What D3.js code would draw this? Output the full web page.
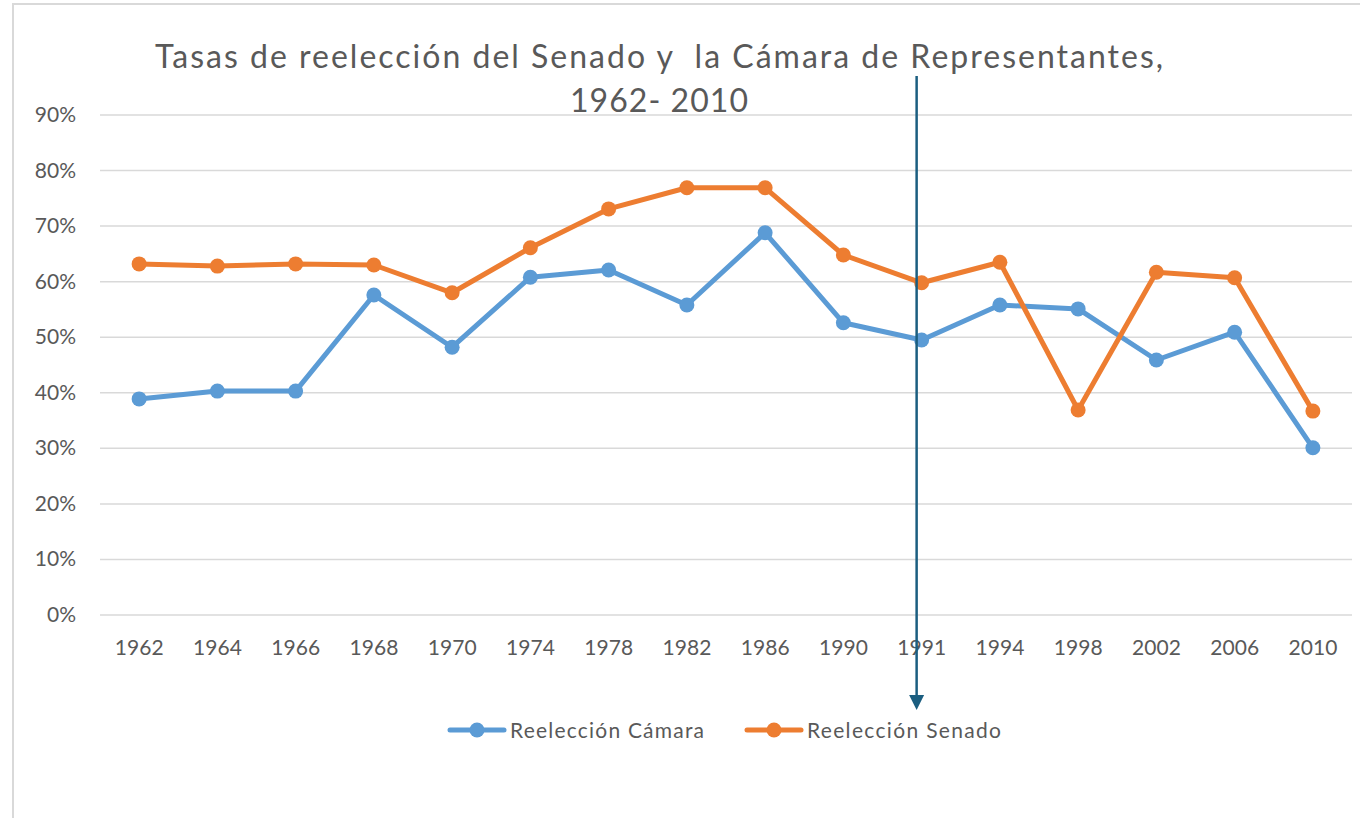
<!DOCTYPE html>
<html>
<head>
<meta charset="utf-8">
<script src="https://cdn.jsdelivr.net/npm/d3@7"></script>
<style>
  body { margin: 0; background: #fff; }
  svg { display: block; }
  text { font-family: Lato, "Open Sans", sans-serif; fill: #595959; }
</style>
</head>
<body>
<svg id="chart" width="1360" height="818"></svg>
<script>
// categories (election years)
const years = ["1962", "1964", "1966", "1968", "1970", "1974", "1978", "1982",
               "1986", "1990", "1991", "1994", "1998", "2002", "2006", "2010"];

// reelection rates, percent
const camara = [38.9, 40.3, 40.3, 57.6, 48.2, 60.8, 62.1, 55.8,
                68.8, 52.6, 49.5, 55.8, 55.1, 45.9, 50.9, 30.1];
const senado = [63.2, 62.8, 63.2, 63.0, 58.0, 66.1, 73.1, 76.9,
                76.9, 64.8, 59.8, 63.5, 36.9, 61.7, 60.7, 36.7];

const yTicks = [0, 10, 20, 30, 40, 50, 60, 70, 80, 90];
const seriesNames = ["Reelección Cámara", "Reelección Senado"];
const markedYear = "1991";

const svg = d3.select("#chart");

// outer frame (only the top & left edges are visible in the window)
svg.append("rect")
  .attr("x", 13).attr("y", 4)
  .attr("width", 1400).attr("height", 900)
  .attr("fill", "none")
  .attr("stroke", "#d9d9d9")
  .attr("stroke-width", 2);

const x = d3.scalePoint()
  .domain(years)
  .range([100, 1352])
  .padding(0.5);

const y = d3.scaleLinear()
  .domain([0, 90])
  .range([615, 115]);

// gridlines
svg.append("g")
  .selectAll("line")
  .data(yTicks)
  .enter()
  .append("line")
  .attr("x1", 100)
  .attr("x2", 1352)
  .attr("y1", d => y(d))
  .attr("y2", d => y(d))
  .attr("stroke", "#d9d9d9")
  .attr("stroke-width", 1.5);

// y labels
svg.append("g")
  .selectAll("text")
  .data(yTicks)
  .enter()
  .append("text")
  .attr("x", 76)
  .attr("y", d => y(d) + 7)
  .attr("text-anchor", "end")
  .style("font-size", "21px")
  .text(d => d + "%");

// x labels
svg.append("g")
  .selectAll("text")
  .data(years)
  .enter()
  .append("text")
  .attr("x", d => x(d))
  .attr("y", 655)
  .attr("text-anchor", "middle")
  .style("font-size", "21px")
  .attr("textLength", 49)
  .text(d => d);

// title (condensed face in the original, so stretch to its width)
svg.append("text")
  .attr("x", 659)
  .attr("y", 68)
  .attr("text-anchor", "middle")
  .style("font-size", "32px")
  .attr("textLength", 1008)
  .text("Tasas de reelección del Senado y \u00a0la Cámara de Representantes,");

svg.append("text")
  .attr("x", 659)
  .attr("y", 112)
  .attr("text-anchor", "middle")
  .style("font-size", "32px")
  .attr("textLength", 178)
  .text("1962- 2010");

const line = d3.line()
  .x((d, i) => x(years[i]))
  .y(d => y(d));

const series = [
  { name: seriesNames[0], values: camara, color: "#5b9bd5" },
  { name: seriesNames[1], values: senado, color: "#ed7d31" }
];

series.forEach(s => {
  svg.append("path")
    .datum(s.values)
    .attr("d", line)
    .attr("fill", "none")
    .attr("stroke", s.color)
    .attr("stroke-width", 5)
    .attr("stroke-linejoin", "round");

  svg.append("g")
    .selectAll("circle")
    .data(s.values)
    .enter()
    .append("circle")
    .attr("cx", (d, i) => x(years[i]))
    .attr("cy", d => y(d))
    .attr("r", 7.5)
    .attr("fill", s.color);
});

// arrow marking 1991
const arrowColor = "#1b5e80";
const ax = x(markedYear) - 5;
svg.append("line")
  .attr("x1", ax).attr("x2", ax)
  .attr("y1", 76).attr("y2", 696)
  .attr("stroke", arrowColor)
  .attr("stroke-width", 2.5);
svg.append("path")
  .attr("d", `M${ax - 7.5},695 L${ax + 7.5},695 L${ax},710 Z`)
  .attr("fill", arrowColor);

// legend
const legendX = [448, 745];
series.forEach((s, i) => {
  const g = svg.append("g").attr("transform", `translate(${legendX[i]},730)`);
  g.append("line")
    .attr("x1", 2).attr("x2", 56)
    .attr("stroke", s.color)
    .attr("stroke-width", 5)
    .attr("stroke-linecap", "round");
  g.append("circle").attr("cx", 29).attr("r", 7.5).attr("fill", s.color);
  g.append("text")
    .attr("x", 62)
    .attr("y", 8)
    .style("font-size", "21px")
    .attr("textLength", 194)
    .text(s.name);
});
</script>
</body>
</html>
